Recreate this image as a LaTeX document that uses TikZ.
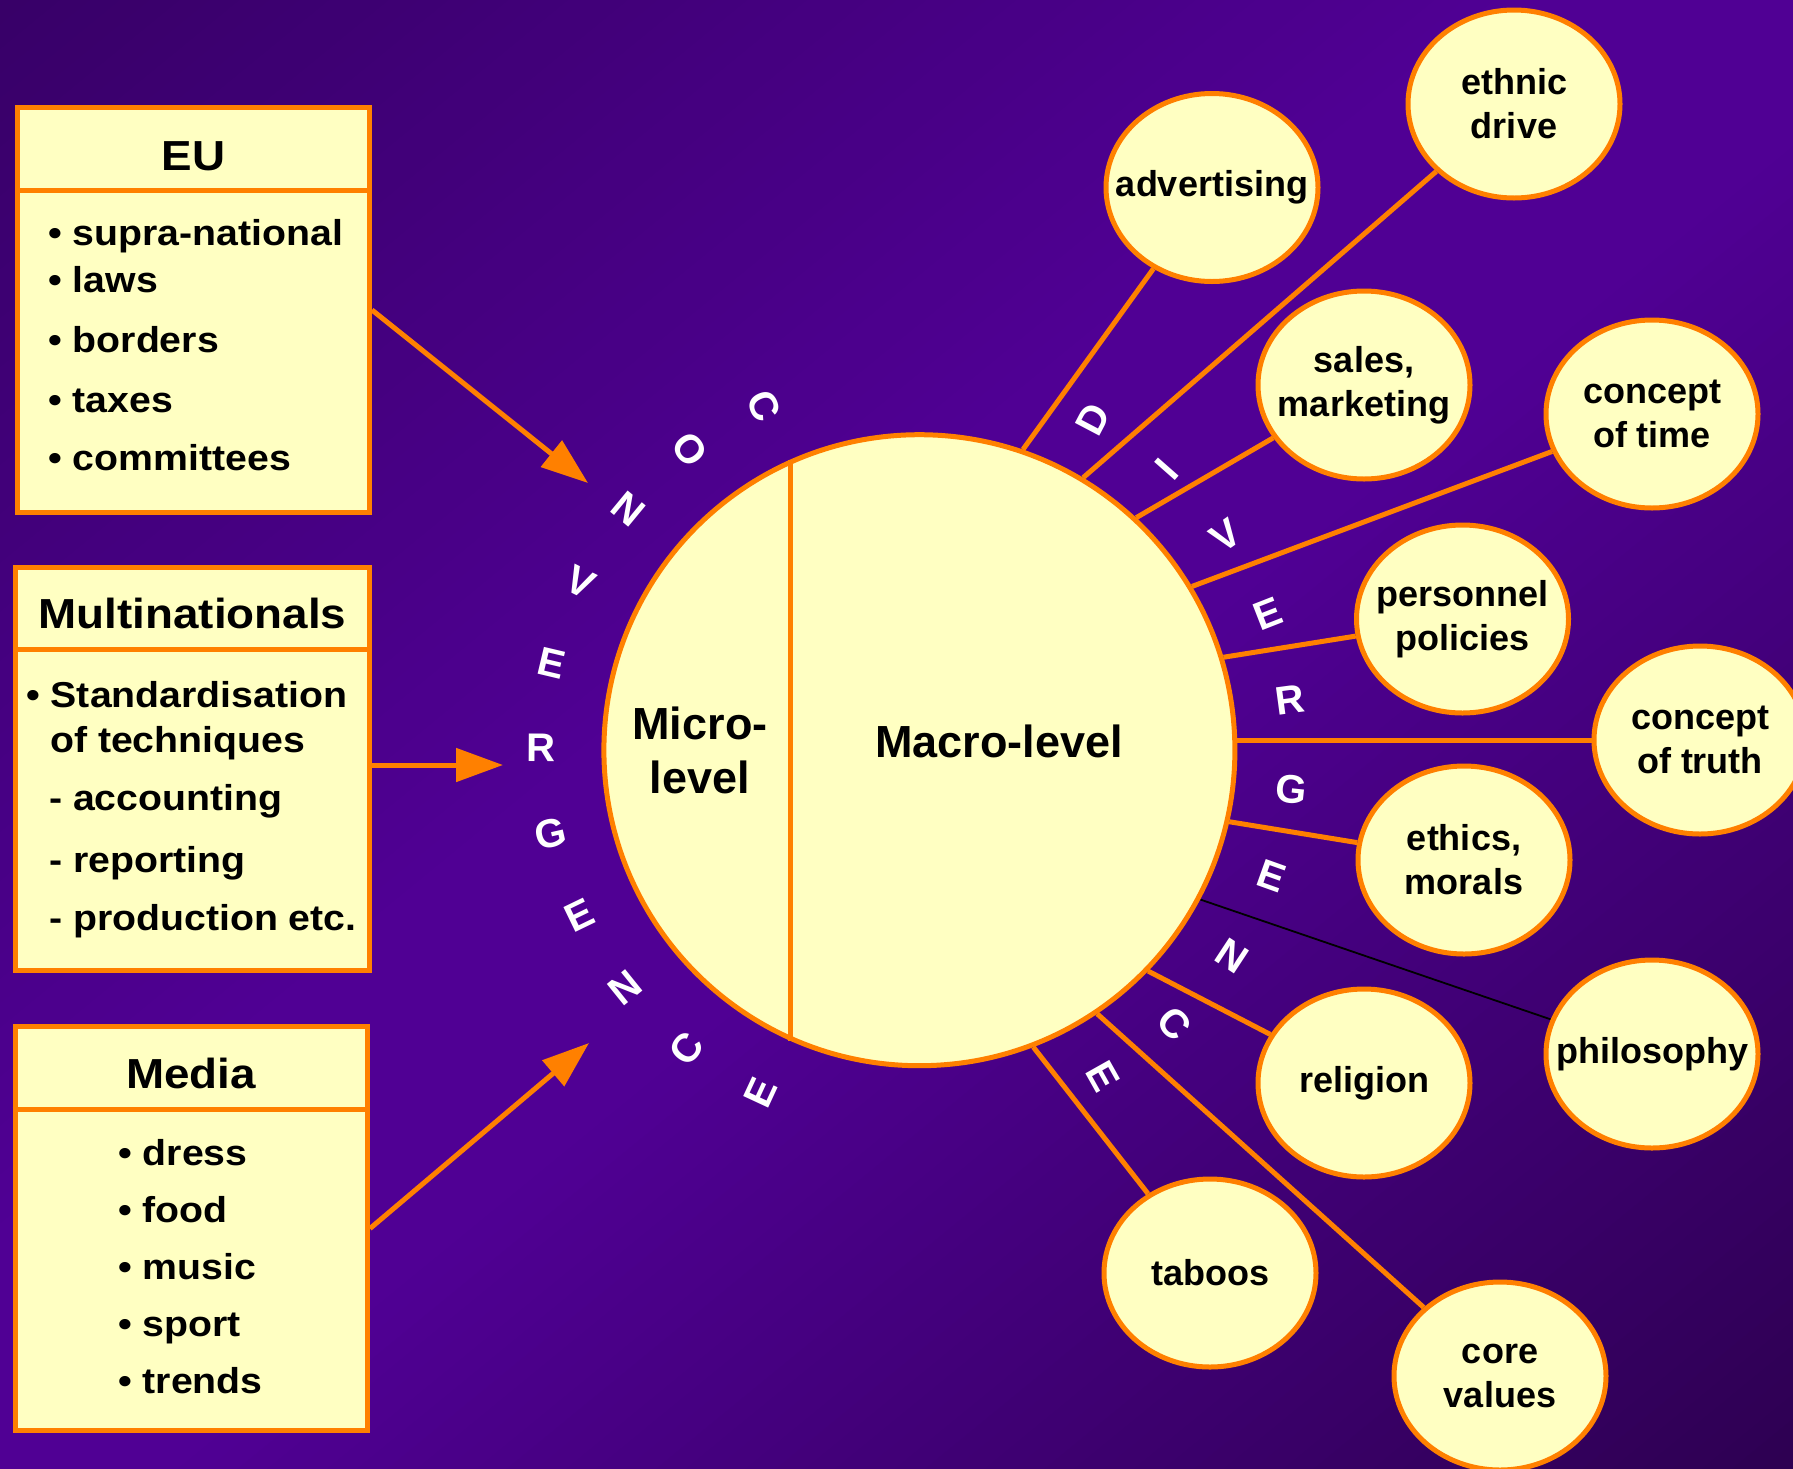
\documentclass[tikz,border=0pt]{standalone}
\usepackage{fontspec}
\setmainfont{Liberation Sans}
\newfontfamily\boxfont{Liberation Sans}[FakeStretch=1.09]
\usetikzlibrary{shapes.geometric,arrows.meta,calc}

\definecolor{edgeorange}{RGB}{255,128,0}
\definecolor{paleyellow}{RGB}{255,255,194}

\pgfdeclarelayer{back}
\pgfdeclarelayer{wires}
\pgfsetlayers{back,wires,main}

\begin{document}
\begin{tikzpicture}[x=1pt,y=-1pt,
  panel/.style={rectangle, draw=edgeorange, line width=5pt, fill=paleyellow, inner sep=0pt},
  divider/.style={draw=edgeorange, line width=5pt},
  head/.style={font=\boxfont\bfseries\fontsize{42}{48}\selectfont, inner sep=0pt, anchor=base},
  item/.style={font=\boxfont\bfseries\fontsize{36}{40}\selectfont, inner sep=0pt, anchor=base west},
  bubble/.style={ellipse, draw=edgeorange, line width=5pt, fill=paleyellow,
                 minimum width=212pt, minimum height=188pt, inner sep=0pt},
  btext/.style={font=\bfseries\fontsize{36}{44}\selectfont, align=center, inner sep=0pt},
  hubtext/.style={font=\bfseries\fontsize{45}{54}\selectfont, align=center, inner sep=0pt},
  spoke/.style={draw=edgeorange, line width=5pt},
  feed/.style={draw=edgeorange, line width=5pt, -{Triangle[length=47pt,width=33pt]}},
  letter/.style={text=white, font=\bfseries\fontsize{40}{40}\selectfont, inner sep=0pt},
]
\useasboundingbox (0,0) rectangle (1793,1468);

% ---------- diagonal purple background, built from thin bands ----------
\begin{pgfonlayer}{back}
  \begin{scope}
    \clip (0,0) rectangle (1793,1468);
    \foreach \k in {0,...,119} {
      \pgfmathsetmacro\ca{2*\k/120}
      \pgfmathsetmacro\cb{2*(\k+1.3)/120}
      \pgfmathsetmacro\um{(\k+0.5)/120}
      \pgfmathtruncatemacro\rr{\um<0.5 ? 56+24*min(\um/0.42,1) : 46+34*min((1-\um)/0.45,1)}
      \pgfmathtruncatemacro\bb{\um<0.5 ? 104+44*min(\um/0.42,1) : 82+66*min((1-\um)/0.45,1)}
      \definecolor{bandc}{RGB}{\rr,0,\bb}
      \fill[bandc] ({1793*(\ca+1)},-1468) -- ({1793*(\ca-2)},2936)
                -- ({1793*(\cb-2)},2936) -- ({1793*(\cb+1)},-1468) -- cycle;
    }
  \end{scope}
\end{pgfonlayer}
\clip (0,0) rectangle (1793,1468);

% ---------- left panels ----------
\node[panel, minimum width=352pt, minimum height=405pt] (eu) at (193.5,310) {};
\coordinate (eusplit) at (0,190.5);
\draw[divider] (eu.west |- eusplit) -- (eu.east |- eusplit);
\node[head] (euh) at (193.5,170) {EU};
\node[item] (eu1) at (48,245) {• supra-national};
\node[item] (eu2) at (48,292) {• laws};
\node[item] (eu3) at (48,352) {• borders};
\node[item] (eu4) at (48,412) {• taxes};
\node[item] (eu5) at (48,470) {• committees};

\node[panel, minimum width=354pt, minimum height=403pt] (mn) at (192.5,769) {};
\coordinate (mnsplit) at (0,649.5);
\draw[divider] (mn.west |- mnsplit) -- (mn.east |- mnsplit);
\node[head] (mnh) at (192.5,628) {Multinationals};
\node[item] (mn1) at (26,707) {• Standardisation};
\node[item] (mn2) at (50,752) {of techniques};
\node[item] (mn3) at (49,810) {- accounting};
\node[item] (mn4) at (49,872) {- reporting};
\node[item] (mn5) at (49,930) {- production etc.};

\node[panel, minimum width=352.5pt, minimum height=404pt] (md) at (191.25,1228.5) {};
\coordinate (mdsplit) at (0,1109.5);
\draw[divider] (md.west |- mdsplit) -- (md.east |- mdsplit);
\node[head] (mdh) at (191.25,1088) {Media};
\node[item] (md1) at (118,1165) {• dress};
\node[item] (md2) at (118,1222) {• food};
\node[item] (md3) at (118,1279) {• music};
\node[item] (md4) at (118,1336) {• sport};
\node[item] (md5) at (118,1393) {• trends};

% ---------- arrows into the hub ----------
\coordinate (eutip) at (588,483);
\coordinate (mntip) at (503,765);
\coordinate (mdtip) at (589,1043);
\draw[feed] (eu.east) -- (eutip);
\draw[feed] (mn.east |- mntip) -- (mntip);
\draw[feed] (md.east) -- (mdtip);

% ---------- central circle ----------
\node[circle, draw=edgeorange, line width=5pt, fill=paleyellow, minimum size=631pt, inner sep=0pt]
  (hub) at (919.4,750.2) {};
\draw[spoke] (hub.114) -- (hub.246);
\node[hubtext] (micro) at (700,750) {Micro-\\level};
\node[hubtext] (macro) at (999,741) {Macro-level};

% ---------- curved lettering ----------
\foreach \l [count=\i from 0] in {C,O,N,V,E,R,G,E,N,C,E} {
  \pgfmathsetmacro\a{114.3+13.08*\i}
  \node[letter, rotate=\a-180] (conv\i) at ({919.4+378*cos(\a)},{750.2-378*sin(\a)}) {\l};
}
\foreach \l [count=\i from 0] in {D,I,V,E,R,G,E,N,C,E} {
  \pgfmathsetmacro\a{62.3-13.66*\i}
  \node[letter, rotate=\a] (div\i) at ({919.4+374*cos(\a)},{750.2-374*sin(\a)}) {\l};
}

% ---------- outer bubbles ----------
\node[bubble] (adv) at (1212,187.5) {};
\node[btext] (advt) at (adv) {advertising};
\node[bubble] (eth) at (1514,104) {};
\node[btext] (etht) at (eth) {ethnic\\drive};
\node[bubble] (sal) at (1364,385) {};
\node[btext] (salt) at (sal) {sales,\\marketing};
\node[bubble] (tim) at (1652,414) {};
\node[btext] (timt) at (tim) {concept\\of time};
\node[bubble] (per) at (1462.5,619) {};
\node[btext] (pert) at (per) {personnel\\policies};
\node[bubble] (tru) at (1700,740) {};
\node[btext] (trut) at (tru) {concept\\of truth};
\node[bubble] (ethm) at (1464,860) {};
\node[btext] (ethmt) at (ethm) {ethics,\\morals};
\node[bubble] (phi) at (1652,1054) {};
\node[btext] (phit) at (phi) {philosophy};
\node[bubble] (rel) at (1364,1083) {};
\node[btext] (relt) at (rel) {religion};
\node[bubble] (tab) at (1210,1273) {};
\node[btext] (tabt) at (tab) {taboos};
\node[bubble] (cor) at (1500,1376) {};
\node[btext] (cort) at (cor) {core\\values};

% ---------- spokes ----------
\begin{pgfonlayer}{wires}
  \draw[spoke] (hub.71.9) -- (adv);
  \draw[spoke] (hub.59.4) -- (eth);
  \draw[spoke] (hub.47.6) -- (sal);
  \draw[spoke] (hub.31.6) -- (tim);
  \draw[spoke] (hub.17.5) -- (per);
  \draw[spoke] (tru -| hub.east) -- (tru);
  \draw[spoke] (hub.-13.8) -- (ethm);
  \draw[black, line width=1.8pt] (hub.-28.8) -- (phi);
  \draw[spoke] (hub.-44.7) -- (rel);
  \draw[spoke] (hub.-69.2) -- (tab);
  \draw[spoke] (hub.-56.1) -- (cor);
\end{pgfonlayer}
\end{tikzpicture}
\end{document}
